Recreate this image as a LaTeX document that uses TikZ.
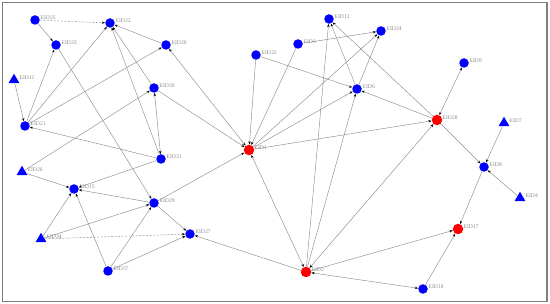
\documentclass[tikz,border=0pt]{standalone}
\usepackage{fontspec}
\setmainfont{Liberation Serif}
\usetikzlibrary{arrows.meta,shapes.geometric}
\begin{document}
\begin{tikzpicture}[x=1pt,y=-1pt,
  bnode/.style={circle,fill=blue,inner sep=0pt,minimum size=9.5pt},
  rnode/.style={circle,fill=red,inner sep=0pt,minimum size=10.5pt},
  tnode/.style={regular polygon,regular polygon sides=3,fill=blue,inner sep=0pt,minimum size=12.5pt},
  lbl/.style={anchor=west,inner sep=0pt,text=black!45,font=\fontsize{5.6}{6}\selectfont},
  e/.style={draw=black!45,line width=0.45pt,-{Stealth[length=3.2pt,width=2.4pt,color=black]}},
  bb/.style={draw=black!45,line width=0.45pt,{Stealth[length=3.2pt,width=2.4pt,color=black]}-{Stealth[length=3.2pt,width=2.4pt,color=black]}},
  dsh/.style={dash pattern=on 2pt off 1.5pt}
]
\useasboundingbox (0,0) rectangle (550,304);
\draw[black!50,line width=1.2pt] (2.6,2.6) rectangle (547,301.4);
\newcommand\mynode[5]{\node[#4] (#1) at (#2,#3) {};
  \node[lbl] (#1l) at ([xshift=5.5pt,yshift=2.5pt]#1.center) {#5};}
\mynode{EID25}{35}{20}{bnode}{EID25}
\mynode{EID22}{110}{23}{bnode}{EID22}
\mynode{EID33}{56}{45}{bnode}{EID33}
\mynode{EID20}{166}{45}{bnode}{EID20}
\mynode{EID11}{14}{80}{tnode}{EID11}
\mynode{EID30}{154}{88}{bnode}{EID30}
\mynode{EID21}{25}{126}{bnode}{EID21}
\mynode{EID31}{161}{159}{bnode}{EID31}
\mynode{EID26}{22}{172}{tnode}{EID26}
\mynode{EID15}{74}{189}{bnode}{EID15}
\mynode{EID29}{154}{203}{bnode}{EID29}
\mynode{EID34}{41}{239}{tnode}{EID34}
\mynode{EID27}{190}{234}{bnode}{EID27}
\mynode{EID37}{108}{271}{bnode}{EID37}
\mynode{EID1}{249}{150}{rnode}{EID1}
\mynode{EID12}{329}{19}{bnode}{EID12}
\mynode{EID24}{381}{31}{bnode}{EID24}
\mynode{EID3}{298}{44}{bnode}{EID3}
\mynode{EID32}{256}{55}{bnode}{EID32}
\mynode{EID6}{357}{89}{bnode}{EID6}
\mynode{EID9}{464}{63}{bnode}{EID9}
\mynode{EID28}{437}{120}{rnode}{EID28}
\mynode{EID7}{504}{123}{tnode}{EID7}
\mynode{EID8}{484}{167}{bnode}{EID8}
\mynode{EID4}{520}{198}{tnode}{EID4}
\mynode{EID17}{458}{229}{rnode}{EID17}
\mynode{EID2}{306}{272}{rnode}{EID2}
\mynode{EID18}{423}{289}{bnode}{EID18}

\draw[e,dsh] (EID25) -- (EID22);
\draw[e] (EID25) -- (EID33);
\draw[e] (EID21) -- (EID33);
\draw[e] (EID21) -- (EID22);
\draw[e] (EID21) -- (EID20);
\draw[e] (EID11) -- (EID21);
\draw[e] (EID20) -- (EID22);
\draw[e] (EID30) -- (EID22);
\draw[e] (EID31) -- (EID22);
\draw[e] (EID33) -- (EID29);
\draw[bb] (EID30) -- (EID31);
\draw[bb] (EID1) -- (EID20);
\draw[e] (EID30) -- (EID1);
\draw[e] (EID26) -- (EID30);
\draw[e] (EID31) -- (EID21);
\draw[e] (EID31) -- (EID15);
\draw[e] (EID26) -- (EID15);
\draw[e] (EID29) -- (EID15);
\draw[e] (EID34) -- (EID15);
\draw[e] (EID37) -- (EID15);
\draw[e] (EID34) -- (EID29);
\draw[e,dsh] (EID34) -- (EID27);
\draw[e] (EID37) -- (EID29);
\draw[e] (EID37) -- (EID27);
\draw[e] (EID29) -- (EID27);
\draw[e] (EID29) -- (EID1);
\draw[e] (EID2) -- (EID27);
\draw[bb] (EID1) -- (EID2);
\draw[e] (EID32) -- (EID1);
\draw[e] (EID3) -- (EID1);
\draw[e] (EID1) -- (EID24);
\draw[e] (EID1) -- (EID6);
\draw[e] (EID1) -- (EID28);
\draw[e] (EID32) -- (EID6);
\draw[e] (EID3) -- (EID24);
\draw[e] (EID6) -- (EID24);
\draw[e] (EID6) -- (EID12);
\draw[e] (EID2) -- (EID12);
\draw[e] (EID2) -- (EID6);
\draw[bb] (EID2) -- (EID28);
\draw[e] (EID28) -- (EID12);
\draw[e] (EID28) -- (EID6);
\draw[bb] (EID28) -- (EID9);
\draw[e] (EID28) -- (EID8);
\draw[e] (EID7) -- (EID8);
\draw[e] (EID4) -- (EID8);
\draw[e] (EID8) -- (EID17);
\draw[e] (EID2) -- (EID17);
\draw[e] (EID18) -- (EID17);
\draw[bb] (EID2) -- (EID18);
\end{tikzpicture}
\end{document}
